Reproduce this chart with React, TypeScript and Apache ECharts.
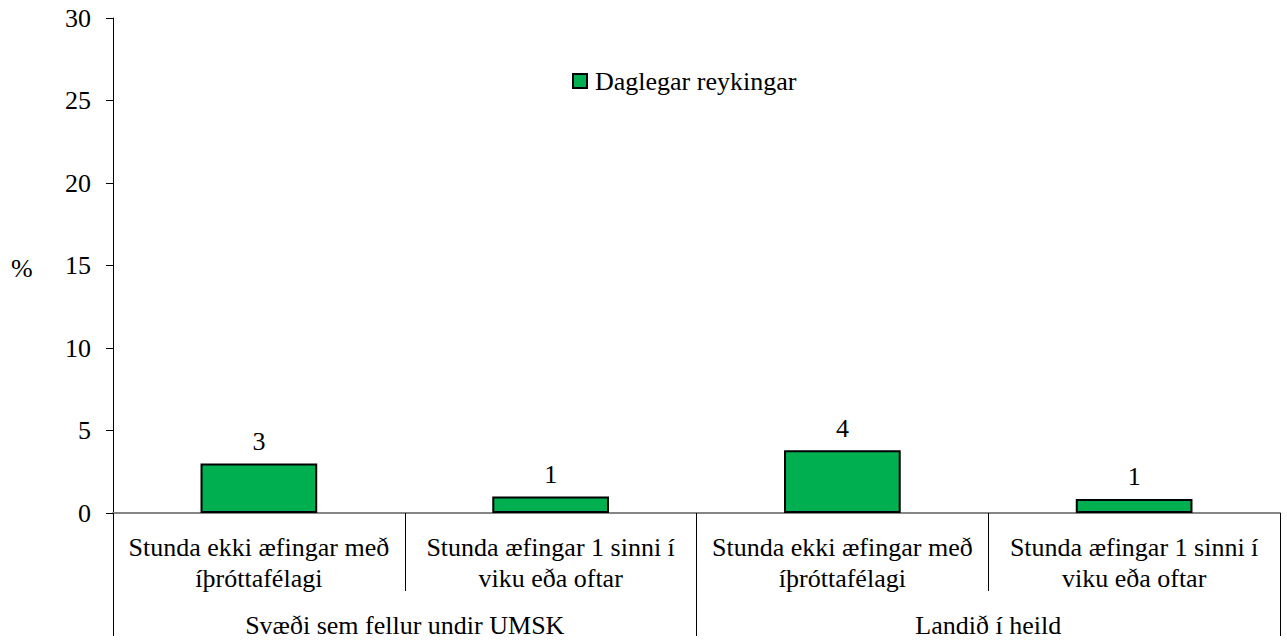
import React, { useEffect, useRef } from "react";
import * as echarts from "echarts";

const categories = [
  "Stunda ekki æfingar með\níþróttafélagi",
  "Stunda æfingar 1 sinni í\nviku eða oftar",
  "Stunda ekki æfingar með\níþróttafélagi",
  "Stunda æfingar 1 sinni í\nviku eða oftar",
];
const groups = ["Svæði sem fellur undir UMSK", "Landið í heild"];
const seriesName = "Daglegar reykingar";
const values = [3.0, 1.0, 3.8, 0.85];
const yTicks = { min: 0, max: 30, interval: 5 };

const FONT = "Liberation Serif, serif";

export default function App() {
  const ref = useRef<HTMLDivElement>(null);
  useEffect(() => {
    if (!ref.current) return;
    const chart = echarts.init(ref.current, undefined, { renderer: "svg" });
    chart.setOption({
      animation: false,
      backgroundColor: "#ffffff",
      textStyle: { fontFamily: FONT, color: "#000" },
      grid: { left: 113, right: 7, top: 18, bottom: 123, containLabel: false },
      legend: {
        data: [seriesName],
        left: 567,
        top: 63,
        icon: "rect",
        itemWidth: 14,
        itemHeight: 14,
        itemGap: 10,
        textStyle: { fontFamily: FONT, fontSize: 26, color: "#000", padding: [0, 0, 0, 3] },
      },
      graphic: [
        {
          type: "text",
          left: 11,
          top: 255,
          style: { text: "%", font: `26px ${FONT}`, fill: "#000" },
        },
      ],
      xAxis: [
        {
          type: "category",
          data: categories,
          position: "bottom",
          axisLine: { show: true, lineStyle: { color: "#868686", width: 2 } },
          axisTick: { show: true, interval: 0, alignWithLabel: false, length: 78, lineStyle: { color: "#000", width: 1 } },
          axisLabel: {
            interval: 0,
            margin: 19,
            fontFamily: FONT,
            fontSize: 26,
            lineHeight: 31,
            color: "#000",
            align: "center",
          },
          splitLine: { show: false },
        },
        {
          type: "category",
          data: groups,
          position: "bottom",
          axisLine: { show: false },
          axisTick: { show: true, interval: 0, alignWithLabel: false, length: 123, lineStyle: { color: "#000", width: 1 } },
          axisLabel: {
            interval: 0,
            margin: 97,
            fontFamily: FONT,
            fontSize: 26,
            lineHeight: 31,
            color: "#000",
          },
          splitLine: { show: false },
        },
      ],
      yAxis: {
        type: "value",
        min: yTicks.min,
        max: yTicks.max,
        interval: yTicks.interval,
        axisLine: { show: true, lineStyle: { color: "#000", width: 1 } },
        axisTick: { show: true, inside: false, length: 7, lineStyle: { color: "#000" } },
        axisLabel: { margin: 22, fontFamily: FONT, fontSize: 26, color: "#000" },
        splitLine: { show: false },
      },
      series: [
        {
          name: seriesName,
          type: "bar",
          data: values,
          xAxisIndex: 0,
          barWidth: "40%",
          itemStyle: { color: "#00B050", borderColor: "#000", borderWidth: 2 },
          label: {
            show: true,
            position: "top",
            distance: 9,
            fontFamily: FONT,
            fontSize: 26,
            color: "#000",
            formatter: (p: any) => String(Math.round(p.value)),
          },
        },
      ],
    });
    return () => chart.dispose();
  }, []);
  return (
    <div
      ref={ref}
      style={{ position: "fixed", left: 0, top: 0, width: 1287, height: 641 }}
    />
  );
}
